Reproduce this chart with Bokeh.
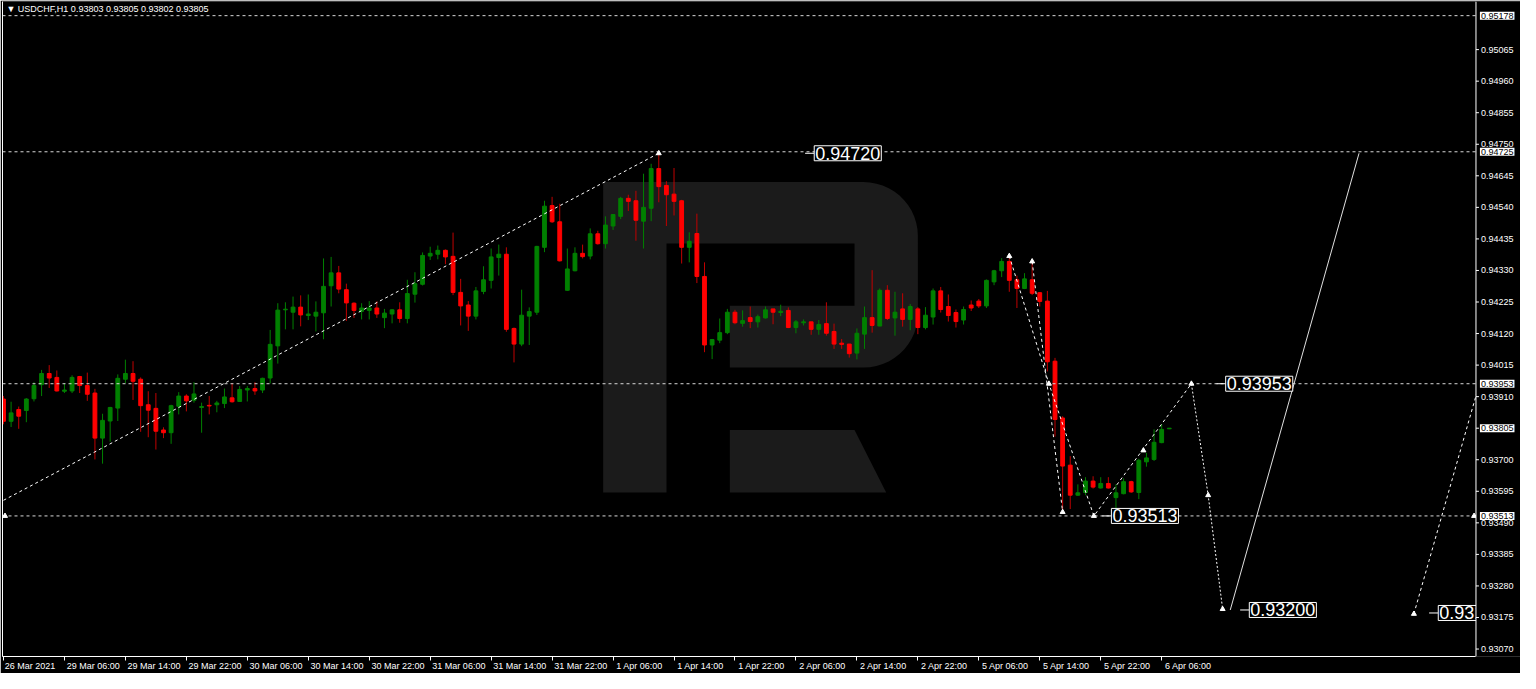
import numpy as np
from bokeh.plotting import figure
from bokeh.models import (Range1d, LinearAxis, FixedTicker, Span, Label, ColumnDataSource)
from bokeh.embed import file_html
from bokeh.resources import INLINE
from bokeh.core.properties import value

# ---------------- data ----------------
chart_title = "\u25bc USDCHF,H1  0.93803 0.93805 0.93802 0.93805"

ohlc = [
    (0.93902, 0.93912, 0.93818, 0.93828), (0.93828, 0.93893, 0.93809, 0.93856),
    (0.93867, 0.93877, 0.93803, 0.93845), (0.93864, 0.93905, 0.93825, 0.93902),
    (0.93903, 0.93958, 0.93894, 0.93947), (0.93950, 0.93999, 0.93912, 0.93987),
    (0.93987, 0.94015, 0.93939, 0.93972), (0.93974, 0.93997, 0.93927, 0.93929),
    (0.93928, 0.93955, 0.93922, 0.93932), (0.93929, 0.93981, 0.93922, 0.93974),
    (0.93977, 0.93979, 0.93922, 0.93947), (0.93947, 0.93990, 0.93896, 0.93918),
    (0.93922, 0.93936, 0.93701, 0.93772), (0.93772, 0.93853, 0.93687, 0.93831),
    (0.93829, 0.93876, 0.93760, 0.93874), (0.93872, 0.93984, 0.93829, 0.93971),
    (0.93968, 0.94033, 0.93955, 0.93987), (0.93987, 0.94028, 0.93899, 0.93961),
    (0.93968, 0.93974, 0.93793, 0.93880), (0.93883, 0.93928, 0.93775, 0.93865),
    (0.93871, 0.93922, 0.93734, 0.93795), (0.93799, 0.93808, 0.93772, 0.93790),
    (0.93790, 0.93883, 0.93753, 0.93880), (0.93878, 0.93925, 0.93851, 0.93912),
    (0.93912, 0.93918, 0.93861, 0.93896), (0.93898, 0.93958, 0.93890, 0.93919),
    (0.93874, 0.93890, 0.93790, 0.93877), (0.93881, 0.93912, 0.93851, 0.93879),
    (0.93883, 0.93896, 0.93858, 0.93889), (0.93887, 0.93937, 0.93872, 0.93909),
    (0.93906, 0.93955, 0.93890, 0.93893), (0.93894, 0.93945, 0.93893, 0.93934),
    (0.93932, 0.93945, 0.93894, 0.93937), (0.93937, 0.93958, 0.93916, 0.93929),
    (0.93932, 0.93973, 0.93922, 0.93971), (0.93972, 0.94132, 0.93954, 0.94084),
    (0.94079, 0.94221, 0.94020, 0.94198), (0.94199, 0.94224, 0.94134, 0.94201),
    (0.94191, 0.94243, 0.94134, 0.94208), (0.94208, 0.94247, 0.94144, 0.94182),
    (0.94180, 0.94250, 0.94165, 0.94185), (0.94178, 0.94227, 0.94127, 0.94191),
    (0.94189, 0.94370, 0.94101, 0.94277), (0.94279, 0.94375, 0.94210, 0.94322),
    (0.94322, 0.94345, 0.94254, 0.94268), (0.94266, 0.94286, 0.94162, 0.94222),
    (0.94221, 0.94224, 0.94172, 0.94197), (0.94194, 0.94221, 0.94167, 0.94205),
    (0.94197, 0.94228, 0.94167, 0.94205), (0.94205, 0.94227, 0.94172, 0.94185),
    (0.94173, 0.94202, 0.94138, 0.94188), (0.94185, 0.94201, 0.94154, 0.94199),
    (0.94199, 0.94224, 0.94156, 0.94170), (0.94170, 0.94299, 0.94154, 0.94253),
    (0.94251, 0.94324, 0.94223, 0.94286), (0.94284, 0.94390, 0.94280, 0.94380),
    (0.94378, 0.94409, 0.94365, 0.94387), (0.94384, 0.94413, 0.94367, 0.94397),
    (0.94397, 0.94400, 0.94351, 0.94375), (0.94377, 0.94456, 0.94248, 0.94257),
    (0.94257, 0.94302, 0.94147, 0.94212), (0.94215, 0.94228, 0.94129, 0.94178),
    (0.94178, 0.94275, 0.94167, 0.94262), (0.94260, 0.94344, 0.94251, 0.94299),
    (0.94297, 0.94403, 0.94270, 0.94375), (0.94373, 0.94416, 0.94313, 0.94384),
    (0.94384, 0.94407, 0.94126, 0.94134), (0.94137, 0.94140, 0.94024, 0.94085),
    (0.94085, 0.94266, 0.94078, 0.94181), (0.94178, 0.94207, 0.94082, 0.94193),
    (0.94191, 0.94412, 0.94182, 0.94410), (0.94407, 0.94562, 0.94391, 0.94544),
    (0.94546, 0.94575, 0.94488, 0.94492), (0.94492, 0.94552, 0.94360, 0.94362),
    (0.94264, 0.94403, 0.94262, 0.94335), (0.94329, 0.94407, 0.94327, 0.94387),
    (0.94387, 0.94416, 0.94370, 0.94376), (0.94378, 0.94470, 0.94367, 0.94452),
    (0.94452, 0.94462, 0.94416, 0.94419), (0.94419, 0.94510, 0.94403, 0.94481),
    (0.94478, 0.94518, 0.94465, 0.94516), (0.94510, 0.94575, 0.94501, 0.94570),
    (0.94570, 0.94582, 0.94528, 0.94560), (0.94562, 0.94595, 0.94429, 0.94497),
    (0.94494, 0.94652, 0.94403, 0.94540), (0.94537, 0.94685, 0.94494, 0.94669),
    (0.94669, 0.94716, 0.94557, 0.94609), (0.94613, 0.94627, 0.94478, 0.94582),
    (0.94584, 0.94671, 0.94513, 0.94560), (0.94562, 0.94565, 0.94353, 0.94407),
    (0.94407, 0.94457, 0.94357, 0.94427), (0.94453, 0.94519, 0.94288, 0.94310),
    (0.94310, 0.94357, 0.94058, 0.94082), (0.94082, 0.94102, 0.94035, 0.94100),
    (0.94098, 0.94170, 0.94088, 0.94123), (0.94123, 0.94202, 0.94118, 0.94191),
    (0.94191, 0.94199, 0.94151, 0.94156), (0.94154, 0.94197, 0.94143, 0.94163),
    (0.94173, 0.94210, 0.94138, 0.94160), (0.94159, 0.94183, 0.94140, 0.94176),
    (0.94172, 0.94210, 0.94170, 0.94199), (0.94202, 0.94202, 0.94151, 0.94191),
    (0.94190, 0.94216, 0.94178, 0.94194), (0.94197, 0.94207, 0.94138, 0.94140),
    (0.94140, 0.94165, 0.94121, 0.94159), (0.94156, 0.94167, 0.94147, 0.94159),
    (0.94159, 0.94159, 0.94116, 0.94134), (0.94134, 0.94165, 0.94116, 0.94150),
    (0.94153, 0.94224, 0.94113, 0.94121), (0.94127, 0.94153, 0.94069, 0.94085),
    (0.94088, 0.94102, 0.94069, 0.94084), (0.94085, 0.94085, 0.94040, 0.94053),
    (0.94055, 0.94137, 0.94034, 0.94121), (0.94118, 0.94210, 0.94069, 0.94173),
    (0.94173, 0.94331, 0.94123, 0.94147), (0.94145, 0.94270, 0.94145, 0.94264),
    (0.94264, 0.94281, 0.94165, 0.94170), (0.94172, 0.94259, 0.94113, 0.94191),
    (0.94202, 0.94254, 0.94143, 0.94167), (0.94167, 0.94218, 0.94131, 0.94210),
    (0.94202, 0.94208, 0.94118, 0.94140), (0.94140, 0.94208, 0.94134, 0.94181),
    (0.94175, 0.94270, 0.94150, 0.94262), (0.94262, 0.94275, 0.94190, 0.94200),
    (0.94210, 0.94250, 0.94160, 0.94180), (0.94190, 0.94200, 0.94140, 0.94160),
    (0.94165, 0.94210, 0.94150, 0.94200), (0.94215, 0.94230, 0.94195, 0.94205),
    (0.94228, 0.94235, 0.94205, 0.94212), (0.94212, 0.94300, 0.94205, 0.94297),
    (0.94292, 0.94332, 0.94281, 0.94329), (0.94329, 0.94371, 0.94308, 0.94360),
    (0.94360, 0.94378, 0.94259, 0.94297), (0.94299, 0.94313, 0.94205, 0.94270),
    (0.94270, 0.94321, 0.94268, 0.94302), (0.94299, 0.94361, 0.94248, 0.94254),
    (0.94256, 0.94258, 0.94210, 0.94227), (0.94228, 0.94262, 0.93994, 0.94026),
    (0.94028, 0.94039, 0.93777, 0.93834), (0.93839, 0.93845, 0.93533, 0.93679),
    (0.93682, 0.93712, 0.93536, 0.93582), (0.93582, 0.93618, 0.93580, 0.93590),
    (0.93591, 0.93642, 0.93582, 0.93629), (0.93629, 0.93645, 0.93604, 0.93609),
    (0.93606, 0.93642, 0.93604, 0.93621), (0.93621, 0.93642, 0.93604, 0.93606),
    (0.93574, 0.93618, 0.93517, 0.93590), (0.93587, 0.93638, 0.93585, 0.93627),
    (0.93627, 0.93630, 0.93590, 0.93593), (0.93591, 0.93703, 0.93569, 0.93698),
    (0.93693, 0.93723, 0.93677, 0.93706), (0.93701, 0.93801, 0.93696, 0.93758),
    (0.93757, 0.93818, 0.93755, 0.93801), (0.93803, 0.93805, 0.93802, 0.93805),
]
opens = [r[0] for r in ohlc]
highs = [r[1] for r in ohlc]
lows = [r[2] for r in ohlc]
closes = [r[3] for r in ohlc]

time_tick_bars = list(range(0, 153, 8))
time_tick_labels = ["26 Mar 2021", "29 Mar 06:00", "29 Mar 14:00", "29 Mar 22:00",
                    "30 Mar 06:00", "30 Mar 14:00", "30 Mar 22:00", "31 Mar 06:00",
                    "31 Mar 14:00", "31 Mar 22:00", "1 Apr 06:00", "1 Apr 14:00",
                    "1 Apr 22:00", "2 Apr 06:00", "2 Apr 14:00", "2 Apr 22:00",
                    "5 Apr 06:00", "5 Apr 14:00", "5 Apr 22:00", "6 Apr 06:00"]

price_ticks = [round(0.93070 + 0.00105 * k, 5) for k in range(20)]
level_prices = [0.95178, 0.94725, 0.93953, 0.93513]
axis_marks = [0.95178, 0.94725, 0.93953, 0.93805, 0.93513]

trend_bars = [0, 86]
trend_prices = [0.93565, 0.94720]
wave_a_bars = [132, 137.2, 143.1, 155.9]
wave_a_prices = [0.94378, 0.93953, 0.93513, 0.93953]
wave_a2_bars = [155.9, 158.1, 160.0]
wave_a2_prices = [0.93953, 0.93582, 0.93203]
wave_b_bars = [135, 139]
wave_b_prices = [0.94360, 0.93526]
solid_bars = [161.0, 177.9]
solid_prices = [0.93200, 0.94720]
wave_c_bars = [185.1, 194.0]
wave_c_prices = [0.93187, 0.93980]
anchor_bars = [86, 132, 135, 137.2, 139, 143.1, 149.6, 155.9, 158.1, 160.0, 185.1, 0.2, 193.0]
anchor_prices = [0.94720, 0.94378, 0.94360, 0.93953, 0.93526, 0.93513, 0.93731,
                 0.93953, 0.93582, 0.93203, 0.93187, 0.93513, 0.93513]

box_texts = ["0.94720", "0.93953", "0.93513", "0.93200", "0.93190"]
box_bars = [106.4, 160.4, 145.4, 163.5, 188.3]
box_prices = [0.94720, 0.93953, 0.93513, 0.93200, 0.93190]

# ---------------- layout helpers (reference pixel -> data) ----------------
def bx(px):
    return (px - 3.0) / 7.70

def py(pix):
    return 0.93513 + (528.0 - pix) / 30780.0

W, H = 1520, 673
x_lo, x_hi = bx(2), bx(1536)
y_lo, y_hi = py(672), py(1)
x_scale_edge = bx(1491)       # where the price scale starts

p = figure(width=W, height=H, x_range=Range1d(x_lo, x_hi), y_range=Range1d(y_lo, y_hi),
           output_backend="svg", toolbar_location=None,
           x_axis_location=None, y_axis_location=None,
           background_fill_color="black", border_fill_color="black",
           min_border_left=2, min_border_right=0, min_border_top=1,
           min_border_bottom=15)
p.grid.visible = False
p.outline_line_color = None

# ---------------- watermark logo ----------------
logo_col = "#1b1b1b"
t1 = np.linspace(-np.pi / 2, 0, 14)
t2 = np.linspace(0, np.pi / 2, 14)
r = 55.0
lx = [609, 872] + list(872 + r * np.cos(t1)) + list(872 + r * np.cos(t2)) + \
     [872, 737, 737, 863, 863, 673, 673, 609]
ly = [186, 186] + list(241 + r * np.sin(t1)) + list(321 + r * np.sin(t2)) + \
     [376, 376, 312.7, 312.7, 249, 249, 504, 504]
p.patch([bx(v) for v in lx], [py(v) for v in ly], fill_color=logo_col, line_color=None)
leg_x = [737, 863, 895, 737]
leg_y = [440, 440, 504, 504]
p.patch([bx(v) for v in leg_x], [py(v) for v in leg_y], fill_color=logo_col, line_color=None)

# ---------------- candles ----------------
idx = np.arange(len(opens))
up = [c >= o for o, c in zip(opens, closes)]
body_col = ["#008000" if u else "#ff0000" for u in up]
wick_col = ["#008000" if u else "#c00000" for u in up]
src = ColumnDataSource(dict(x=idx, o=opens, h=highs, l=lows, c=closes,
                            top=np.maximum(opens, closes), bot=np.minimum(opens, closes),
                            bc=body_col, wc=wick_col))
p.segment(x0="x", y0="l", x1="x", y1="h", line_color="wc", line_width=1, source=src)
p.vbar(x="x", width=0.5, top="top", bottom="bot", fill_color="bc", line_color="bc",
       line_width=1, source=src)

# ---------------- levels and forecast ----------------
p.segment(x0=[x_lo] * len(level_prices), y0=level_prices,
          x1=[x_scale_edge] * len(level_prices), y1=level_prices,
          line_color="#d8d8d8", line_dash="3 3", line_width=1)

p.line(trend_bars, trend_prices, line_color="white", line_dash="3 3", line_width=1)
p.line(wave_a_bars, wave_a_prices, line_color="white", line_dash="3 3", line_width=1)
p.line(wave_a2_bars, wave_a2_prices, line_color="white", line_dash="2 2", line_width=1)
p.line(wave_b_bars, wave_b_prices, line_color="white", line_dash="3 3", line_width=1)
p.line(solid_bars, solid_prices, line_color="#e0e0e0", line_width=1)
p.line(wave_c_bars, wave_c_prices, line_color="white", line_dash="3 3", line_width=1)
p.scatter(anchor_bars, anchor_prices, marker="triangle", size=5, fill_color="white",
          line_color="white")

bsrc = ColumnDataSource(dict(x=box_bars, y=box_prices, t=box_texts,
                             x0=[b - 1.2 for b in box_bars]))
p.segment(x0="x0", y0="y", x1="x", y1="y", line_color="white", line_width=1, source=bsrc)
p.text(x="x", y="y", text="t", source=bsrc, text_color="white",
       text_font=value("Liberation Sans"), text_font_size="18px",
       text_align="left", text_baseline="middle",
       background_fill_color="black", border_line_color="white", border_line_width=1,
       padding=1)

# ---------------- price scale (right strip of the chart) ----------------
p.quad(left=[x_scale_edge], right=[x_hi], bottom=[y_lo], top=[y_hi],
       fill_color="black", line_color=None)
p.add_layout(Span(location=x_scale_edge, dimension="height", line_color="white",
                  line_width=1))
p.segment(x0=[x_scale_edge] * len(price_ticks), y0=price_ticks,
          x1=[bx(1494)] * len(price_ticks), y1=price_ticks,
          line_color="white", line_width=1)
p.text(x=[bx(1496)] * len(price_ticks), y=price_ticks,
       text=["%.5f" % v for v in price_ticks], text_color="white",
       text_font=value("Liberation Sans"), text_font_size="9px",
       text_align="left", text_baseline="middle")
p.text(x=[bx(1495)] * len(axis_marks), y=axis_marks,
       text=["%.5f" % v for v in axis_marks], text_color="black",
       text_font=value("Liberation Sans"), text_font_size="9px",
       text_align="left", text_baseline="middle",
       background_fill_color="white", padding=1)

# ---------------- time axis ----------------
left_ax = LinearAxis(ticker=FixedTicker(ticks=[]), major_label_text_font_size="0px",
                     major_tick_out=0, major_tick_in=0, minor_tick_out=0, minor_tick_in=0,
                     major_label_standoff=0, axis_line_color="white")
p.add_layout(left_ax, "left")

tick_ax = LinearAxis(ticker=FixedTicker(ticks=time_tick_bars), bounds=(x_lo, x_scale_edge),
                     major_label_overrides={b: "" for b in time_tick_bars},
                     major_label_text_font_size="0px", major_label_standoff=0,
                     major_tick_out=4, major_tick_in=0, minor_tick_out=0, minor_tick_in=0,
                     axis_line_color="white", major_tick_line_color="white")
p.add_layout(tick_ax, "below")

label_pos = [round(b + (2.25 * len(t) + 2.0) / 7.70, 3)
             for b, t in zip(time_tick_bars, time_tick_labels)]
label_ax = LinearAxis(ticker=FixedTicker(ticks=label_pos),
                      major_label_overrides={lp: t for lp, t in zip(label_pos, time_tick_labels)},
                      major_label_standoff=0, major_tick_out=0, major_tick_in=0,
                      minor_tick_out=0, minor_tick_in=0, axis_line_color=None,
                      major_tick_line_color=None, minor_tick_line_color=None,
                      major_label_text_color="white", major_label_text_font_size="9px",
                      major_label_text_font="Liberation Sans")
p.add_layout(label_ax, "below")

p.add_layout(Label(x=bx(6), y=py(9), text=chart_title, text_color="white",
                   text_font="Liberation Sans", text_font_size="9px",
                   text_align="left", text_baseline="middle"))

open("out.html", "w").write(file_html(p, INLINE))
